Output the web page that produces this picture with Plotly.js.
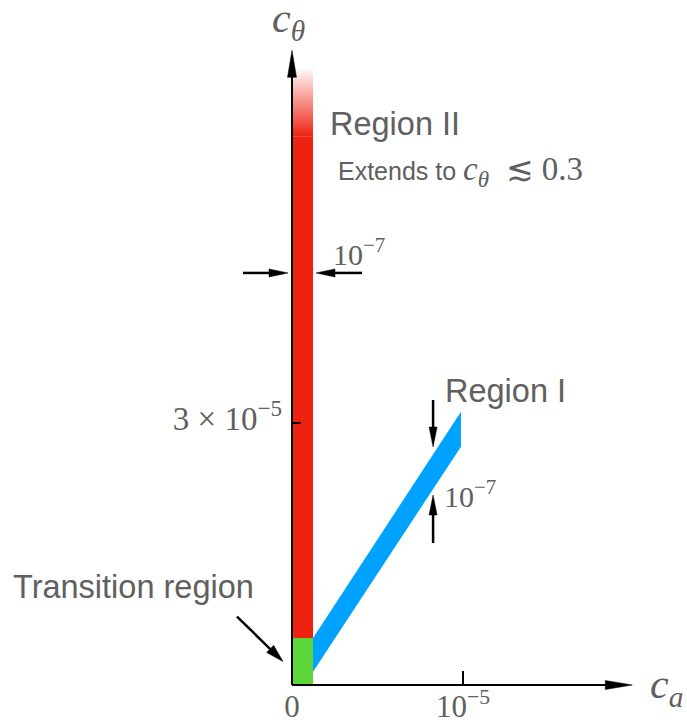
<!DOCTYPE html>
<html><head><meta charset="utf-8">
<script src="https://cdn.plot.ly/plotly-3.0.1.min.js"></script>
<style>html,body{margin:0;padding:0;background:#fff}#chart{width:687px;height:722px}</style>
</head><body><div id="chart"></div>
<script>
// ---------- data ----------
const xTickVals = [0, 1e-5];
const xTickText = ['0', '10<sup>−5</sup>'];
const yTickVals = [3e-5];
const yTickText = ['3 × 10<sup>−5</sup>'];

const caAxisEnd = 1.99e-5;
const cthetaAxisEnd = 7.27e-5;

const transitionCa = [0, 1.23e-6, 1.23e-6, 0];
const transitionCtheta = [0, 0, 5.38e-6, 5.38e-6];

const region2Ca = [0, 1.23e-6, 1.23e-6, 0];
const region2Ctheta = [5.38e-6, 5.38e-6, 6.28e-5, 6.28e-5];
const region2FadeCtheta = [6.28e-5, 6.28e-5, 7.08e-5, 7.08e-5];

const region1Ca = [1.23e-6, 9.88e-6, 9.88e-6, 1.23e-6];
const region1Ctheta = [1.52e-6, 2.73e-5, 3.13e-5, 5.38e-6];

const region2MarkCtheta = 4.72e-5;
const region1MarkCa = 8.25e-6;
const region1MarkTop = 2.726e-5;
const region1MarkBottom = 2.176e-5;

// ---------- layout geometry ----------
const W = 687, H = 722;
const originPx = [292, 685];
const pxPerX = 171 / 1e-5;
const pxPerY = 87.3 / 1e-5;
const xRange = [-originPx[0] / pxPerX, (W - originPx[0]) / pxPerX];
const yRange = [-(H - originPx[1]) / pxPerY, originPx[1] / pxPerY];

const grey = '#606060';
const red = '#ee2210', blue = '#00a2ff', green = '#5dd63a';

const shapes = [];
function arrow(tipX, tipY, tailDx, tailDy, headLen, headW, lw, tipShift) {
  const sx = tipShift ? tipShift[0] : 0, sy = tipShift ? tipShift[1] : 0;
  const L = Math.hypot(tailDx, tailDy);
  const ux = -tailDx / L, uy = -tailDy / L;
  const px = -uy, py = ux;
  const bx = sx - ux * headLen, by = sy - uy * headLen;
  const common = {xref: 'x', yref: 'y', xsizemode: 'pixel', ysizemode: 'pixel', xanchor: tipX, yanchor: tipY, layer: 'above'};
  shapes.push(Object.assign({type: 'line', x0: sx + tailDx, y0: sy + tailDy, x1: bx + ux * 3, y1: by + uy * 3,
    line: {color: 'black', width: lw}}, common));
  const f = v => v.toFixed(2);
  const path = 'M' + f(sx) + ',' + f(sy) + 'L' + f(bx + px * headW / 2) + ',' + f(by + py * headW / 2) +
    'L' + f(bx - px * headW / 2) + ',' + f(by - py * headW / 2) + 'Z';
  shapes.push(Object.assign({type: 'path', path: path, fillcolor: 'black', line: {color: 'black', width: 0.5}}, common));
}
// axes
arrow(0, cthetaAxisEnd, 0, -(cthetaAxisEnd * pxPerY), 27, 9, 2);
arrow(caAxisEnd, 0, -(caAxisEnd * pxPerX), 0, 27, 9, 2);
// width of region II
arrow(0, region2MarkCtheta, -45, 0, 19, 8, 2.5, [-4, 0]);
arrow(region2Ca[1], region2MarkCtheta, 46, 0, 19, 8, 2.5, [3, 0]);
// width of region I
arrow(region1MarkCa, region1MarkTop, 0, 47, 20, 8, 2.5);
arrow(region1MarkCa, region1MarkBottom, 0, -48, 20, 8, 2.5);
// transition region pointer
arrow(0, transitionCtheta[2] / 2, -46, 45, 18, 10, 2.5, [-9, 0]);

const poly = (x, y, color) => ({x: x, y: y, type: 'scatter', mode: 'lines', fill: 'toself',
  fillcolor: color, line: {width: 0, color: color}, hoverinfo: 'skip', showlegend: false});

const fade = poly(region2Ca, region2FadeCtheta, red);
fade.fillgradient = {type: 'vertical', start: region2FadeCtheta[0], stop: region2FadeCtheta[2],
  colorscale: [[0, 'rgba(238,34,16,1)'], [1, 'rgba(238,34,16,0)']]};

const traces = [
  poly(region2Ca, region2Ctheta, red),
  fade,
  poly(transitionCa, transitionCtheta, green),
  poly(region1Ca, region1Ctheta, blue)
];

const serif = 'Liberation Serif';
const sans = 'Liberation Sans';
const annotations = [
  {xref: 'x', yref: 'y', x: 0, y: cthetaAxisEnd, xanchor: 'center', yanchor: 'bottom', xshift: -4, yshift: 1,
   text: '<i>c</i><sub><i>θ</i></sub>', showarrow: false, font: {family: serif, size: 42, color: grey}},
  {xref: 'x', yref: 'y', x: caAxisEnd, y: 0, xanchor: 'left', yanchor: 'middle', xshift: 16, yshift: -2,
   text: '<i>c</i><sub><i>a</i></sub>', showarrow: false, font: {family: serif, size: 42, color: grey}},
  {xref: 'paper', yref: 'paper', x: 328 / W, y: 1 - 124 / H, xanchor: 'left', yanchor: 'middle',
   text: 'Region II', showarrow: false, font: {family: sans, size: 32.5, color: grey}},
  {xref: 'paper', yref: 'paper', x: 336 / W, y: 1 - 172 / H, xanchor: 'left', yanchor: 'middle',
   text: 'Extends to <span style="font-family:Liberation Serif;font-size:33px"><i>c</i><sub><i>θ</i></sub>  ≲ 0.3</span>',
   showarrow: false, font: {family: sans, size: 25, color: grey}},
  {xref: 'paper', yref: 'paper', x: 443 / W, y: 1 - 391 / H, xanchor: 'left', yanchor: 'middle',
   text: 'Region I', showarrow: false, font: {family: sans, size: 32.5, color: grey}},
  {xref: 'paper', yref: 'paper', x: 11 / W, y: 1 - 587 / H, xanchor: 'left', yanchor: 'middle',
   text: 'Transition region', showarrow: false, font: {family: sans, size: 32.5, color: grey}},
  {xref: 'paper', yref: 'paper', x: 331 / W, y: 1 - 252 / H, xanchor: 'left', yanchor: 'middle',
   text: '10<sup>−7</sup>', showarrow: false, font: {family: serif, size: 30, color: grey}},
  {xref: 'paper', yref: 'paper', x: 442 / W, y: 1 - 494 / H, xanchor: 'left', yanchor: 'middle',
   text: '10<sup>−7</sup>', showarrow: false, font: {family: serif, size: 30, color: grey}}
];

const axisCommon = {showgrid: false, zeroline: false, showline: false, ticks: 'inside', tickcolor: 'black',
  tickwidth: 2, tickmode: 'array', anchor: 'free', fixedrange: true};

const layout = {
  width: W, height: H, margin: {l: 0, r: 0, t: 0, b: 0},
  paper_bgcolor: 'white', plot_bgcolor: 'white', showlegend: false,
  xaxis: Object.assign({}, axisCommon, {range: xRange, tickvals: xTickVals, ticktext: xTickText,
    ticklen: 14, position: (H - originPx[1]) / H, ticklabelstandoff: 0,
    tickfont: {family: serif, size: 31, color: grey}}),
  yaxis: Object.assign({}, axisCommon, {range: yRange, tickvals: yTickVals, ticktext: yTickText,
    ticklen: 8, position: originPx[0] / W, ticklabelshift: -5, ticklabelstandoff: 10,
    tickfont: {family: serif, size: 33, color: grey}}),
  shapes: shapes,
  annotations: annotations
};

Plotly.newPlot('chart', traces, layout, {staticPlot: true, displayModeBar: false});
</script></body></html>
